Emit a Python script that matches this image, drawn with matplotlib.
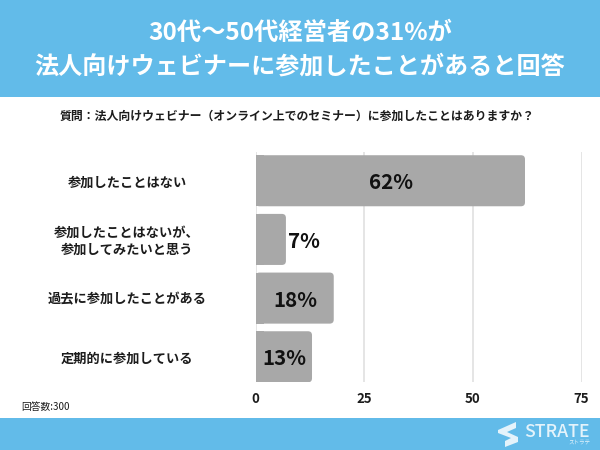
import matplotlib
matplotlib.use('Agg')
import matplotlib.pyplot as plt
from matplotlib.patches import FancyBboxPatch, Rectangle, Polygon

plt.rcParams['font.family'] = ['Noto Sans CJK JP', 'DejaVu Sans']

title_lines = ['30代〜50代経営者の31%が', '法人向けウェビナーに参加したことがあると回答']
question = '質問：法人向けウェビナー（オンライン上でのセミナー）に参加したことはありますか？'
categories = ['参加したことはない', '参加したことはないが、\n参加してみたいと思う', '過去に参加したことがある', '定期的に参加している']
values = [62, 7, 18, 13]
xticks = [0, 25, 50, 75]
note = '回答数:300'
brand = 'STRATE'
brand_kana = 'ストラテ'

W, H = 600, 450
BLUE = '#62BBE9'
GREY = '#A8A8A8'
TEXT = '#1c1c1c'

fig = plt.figure(figsize=(W/100, H/100), dpi=100, facecolor='white')
def fx(x): return x / W
def fy(y): return 1 - y / H

fig.add_artist(Rectangle((0, fy(97)), 1, 97/H, transform=fig.transFigure, fc=BLUE, ec='none'))
fig.add_artist(Rectangle((0, 0), 1, 32/H, transform=fig.transFigure, fc=BLUE, ec='none'))

fig.text(0.5, fy(32.5), title_lines[0], ha='center', va='center', fontsize=17.5, color='white', fontweight='bold')
fig.text(0.5, fy(66), title_lines[1], ha='center', va='center', fontsize=17.35, color='white', fontweight='bold')
fig.text(fx(297), fy(116), question, ha='center', va='center', fontsize=8.55, color=TEXT, fontweight='bold')

ax = fig.add_axes([fx(255.5), fy(382), (581.5-255.5)/W, (382-152)/H])
ax.set_xlim(0, 75)
ax.set_ylim(3.43, -0.49)
ax.set_facecolor('none')
for s in ax.spines.values():
    s.set_visible(False)
ax.set_axisbelow(True)
ax.grid(axis='x', color='#DEDEDE', lw=1.1)
ax.set_xticks(xticks)
ax.tick_params(axis='x', length=0, pad=7, labelsize=9.5, colors=TEXT)
for t in ax.get_xticklabels():
    t.set_fontweight('bold')
ax.set_yticks(range(len(categories)))
ax.set_yticklabels([])
ax.tick_params(axis='y', length=0)

# pixel scale of the axes, used to keep the corner radius round
px_x = 75 / 326
px_y = (3.43 + 0.49) / 230
bar_h = 0.87
r_px = 4
for i, (c, v) in enumerate(zip(categories, values)):
    rounded = FancyBboxPatch((0, i - bar_h/2), v, bar_h,
                             boxstyle=f'round,pad=0,rounding_size={r_px*px_x}',
                             mutation_aspect=px_y/px_x, fc=GREY, ec='none', zorder=2)
    ax.add_patch(rounded)
    ax.add_patch(Rectangle((0, i - bar_h/2), min(v, 2), bar_h, fc=GREY, ec='none', zorder=2))
    label = f'{v}%'
    ha = 'center' if v >= 10 else 'left'
    xpos = v/2 + 0.2 if v >= 10 else v + 0.5
    ax.annotate(label, xy=(xpos, i), xytext=(0, -2), textcoords='offset pixels', ha=ha, va='center',
                fontsize=14.8, fontweight='bold', color='#111111', zorder=3)
    ax.annotate(c, xy=(0, i), xycoords=('axes fraction', 'data'), xytext=(fx(127)*W - 255.5, -1.5),
                textcoords='offset pixels', ha='center', va='center', fontsize=9.5,
                fontweight='bold', color=TEXT, linespacing=1.25, multialignment='center')

fig.text(fx(21), fy(407), note, ha='left', va='center', fontsize=7, color=TEXT)

# logo
fig.add_artist(Polygon([(fx(498), fy(430)), (fx(516), fy(422)), (fx(516), fy(428)), (fx(507), fy(432)), (fx(518), fy(437)),
                        (fx(518), fy(442)), (fx(505), fy(447)), (fx(505), fy(441)), (fx(511), fy(438)), (fx(498), fy(433))],
                       closed=True, transform=fig.transFigure, fc='#E4F3FB', ec='none'))
fig.text(fx(524), fy(432), brand, ha='left', va='center', fontsize=12.8, color='#E4F3FB', fontweight='medium')
fig.text(fx(590), fy(442), brand_kana, ha='right', va='center', fontsize=4, color='#E4F3FB')

fig.savefig('out.png', dpi=100)
